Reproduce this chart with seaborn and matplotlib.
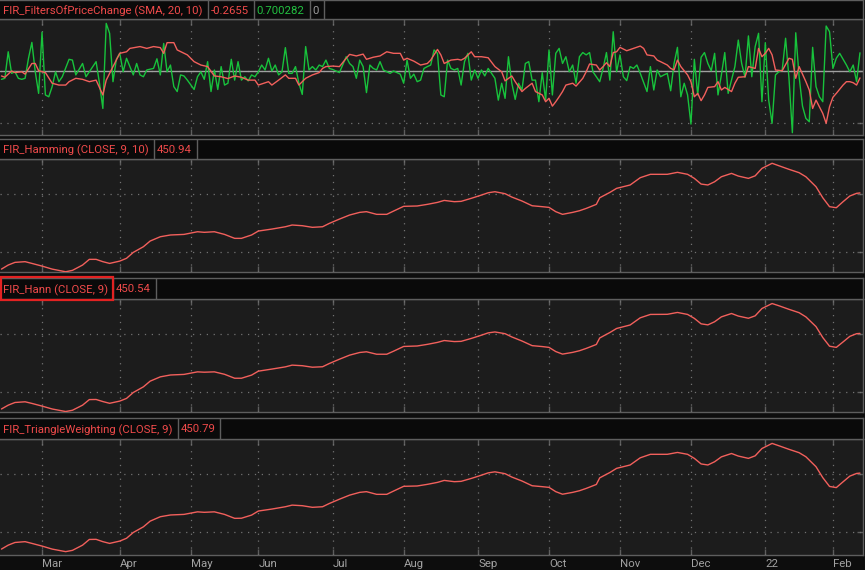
import matplotlib
matplotlib.use("Agg")
import matplotlib.pyplot as plt
import matplotlib.transforms as mtransforms
from matplotlib.patches import Rectangle
import numpy as np
import pandas as pd
import seaborn as sns

# ---------------- data ----------------
month_bars = [12, 35, 56, 76, 98, 119, 141, 162, 183, 204, 226, 246]
month_labels = ["Mar", "Apr", "May", "Jun", "Jul", "Aug", "Sep", "Oct", "Nov", "Dec", "22", "Feb"]

green_bars = [0, 1, 2, 3, 4, 5, 6, 7, 8, 9, 10, 11, 12, 13, 14, 15, 16, 17, 18, 20, 21, 22, 24, 25, 26, 28, 29, 30,
              31, 32, 33, 34, 35, 36, 37, 38, 39, 40, 41, 42, 43, 45, 46, 47, 48, 49, 50, 51, 52, 53, 54, 55, 57, 58,
              59, 60, 61, 62, 63, 64, 65, 66, 67, 68, 69, 70, 71, 72, 73, 74, 75, 76, 77, 78, 79, 80, 81, 82, 83, 84,
              85, 86, 87, 88, 89, 90, 91, 92, 93, 94, 95, 96, 97, 98, 100, 102, 103, 104, 105, 106, 107, 108, 109, 110,
              111, 112, 113, 115, 116, 118, 119, 120, 121, 122, 123, 124, 125, 126, 127, 128, 129, 130, 131, 132, 133,
              134, 135, 136, 137, 138, 139, 140, 141, 142, 143, 144, 145, 146, 147, 148, 149, 150, 151, 152, 153, 154,
              155, 156, 157, 158, 159, 160, 161, 162, 163, 164, 165, 166, 167, 168, 169, 170, 171, 172, 173, 174, 175,
              177, 178, 179, 180, 181, 182, 183, 184, 185, 186, 187, 188, 189, 191, 192, 193, 194, 195, 196, 197, 198,
              199, 200, 201, 202, 203, 204, 205, 206, 207, 208, 209, 210, 211, 212, 213, 214, 215, 216, 217, 218, 219,
              220, 221, 222, 223, 224, 225, 226, 227, 228, 229, 230, 231, 232, 233, 234, 235, 236, 237, 238, 239, 240,
              241, 242, 243, 244, 245, 246, 247, 248, 250, 251, 252, 253, 254]
green_vals = [-0.32, -0.28, 0.74, -0.09, -0.03, -0.28, -0.32, -0.28, 0.49, 1.10, -0.03, -0.86, 1.49, -0.92, -0.99,
              -0.60, -0.03, -0.41, -0.22, 0.45, 0.42, -0.15, 0.29, -0.22, -0.03, 0.36, -0.47, -1.44,
              1.83, 1.45, -0.41, 0.45, 0.68, -0.03, 0.49, 0.17, -0.15, 0.29, -0.15, -0.22, 0.04, 0.10, 0.47, -0.15,
              1.06, -0.03, 0.23, -0.60, -0.79, -0.15, -0.19, -0.35, -0.71, -0.22,
              -0.03, -0.32, 0.36, -0.79, 0.04, -0.71, 0.17, -0.54, -0.47, 0.45, -0.35, 0.36, -0.35, -0.22, -0.38,
              -0.15, -0.22, -0.03, 0.23, 0.04, 0.49, 0.00, 0.23, -0.15, -0.03, 0.90,
              -0.09, -0.09, 0.17, -0.47, -0.90, 0.94, 0.04, 0.17, 0.04, 0.23, 0.17, 0.42, 0.10, 0.06, -0.06, 0.55,
              0.29, 0.17, -0.28, 0.42, 0.17, -0.83, 0.23, 0.10,
              0.04, 0.36, 0.04, -0.09, 0.00, -0.12, -0.47, 0.42, -0.28, -0.12, -0.41, -0.35, 0.10, 0.17, 0.23, 0.81,
              0.68, -0.92, -0.99, 0.42, 0.10,
              0.04, 0.10, -0.54, 0.36, 0.68, -0.35, 0.04, -0.28, 0.04, -0.19, 0.10, -0.09, -0.28, -1.12, -0.47, -1.05,
              0.55, -0.47, -1.09, -0.47, -0.73,
              0.29, 0.36, -0.35, -0.35, -1.18, -0.06, -1.12, 0.81, -0.92, 0.68, 0.87, 0.29, 0.55, -0.03, 0.23, -0.47,
              0.55, 0.71, 0.62, 0.71, -0.03,
              -0.41, 0.10, 0.71, -0.35, 1.51, -0.03, 0.62, -0.22, -0.37, 0.17, 0.10, 0.23, -0.09, -0.79, 0.17, -0.73,
              0.04, -0.22, -0.15, -0.09, -0.76,
              0.29, 0.91, -0.99, -0.47, -0.92, -2.04, 0.45, -0.92, 0.53, 0.71, 0.29, 0.01, 0.68, -0.92, -0.15, 0.71,
              -0.86, -0.35, 0.17, 1.19, 0.29,
              -0.24, 1.35, -0.22, 0.94, 1.45, -1.18, 1.09, -1.12, -2.01, -0.15, -0.03, 0.04, 1.26, -0.28, -2.37, 1.47,
              -0.22, -1.35, -1.82, -1.95, 0.91,
              -0.60, -0.99, -1.18, 1.73, 1.51, 0.10, 0.49, 0.68, 0.23, -0.03, 0.23, -0.41, 0.700282]

red_bars = [0, 1, 3, 4, 6, 7, 9, 10, 11, 13, 15, 17, 19, 20, 22, 24, 26, 28, 30, 31, 33, 35, 37, 38, 41, 43, 45, 47,
            48, 49, 51, 52, 55, 57, 59, 61, 63, 65, 67, 69, 71, 73, 75, 76, 79, 80, 82, 84, 85, 87, 88, 90, 92, 94,
            95, 96, 98, 100, 102, 103, 105, 107, 108, 110, 112, 114, 116, 118, 119, 120, 122, 124, 126, 127, 129, 130,
            131, 133, 135, 136, 137, 139, 140, 142, 144, 146, 148, 149, 151, 152, 154, 155, 157, 158, 160, 161, 162,
            163, 164, 165, 166, 167, 169, 170, 172, 173, 174, 176, 177, 178, 179, 180, 181, 182, 183, 185, 187, 189,
            190, 191, 193, 194, 195, 197, 198, 199, 200, 201, 203, 204, 205, 206, 207, 208, 209, 211, 212, 213, 214,
            216, 217, 218, 220, 221, 223, 224, 225, 226, 227, 228, 229, 231, 233, 234, 235, 236, 238, 239, 240, 241,
            243, 244, 245, 246, 247, 249, 250, 251, 252, 253, 254]
red_vals = [-0.19, -0.24, 0.00, -0.06, -0.03, -0.12, 0.29, 0.29, 0.01, -0.06, -0.47, -0.54, -0.54, -0.41, -0.28,
            -0.32, -0.41, -0.35, -0.92, -0.35, 0.17, 0.68, 0.74, 0.87, 0.94, 0.87, 0.94, 0.90,
            0.68, 1.09, 1.09, 0.81, 0.62, 0.36, 0.23, 0.17, -0.19, -0.22, -0.29, -0.19, -0.24, -0.35, -0.35, -0.54,
            -0.41, -0.54, -0.35, -0.15, -0.28, -0.28, -0.54, -0.28, -0.15, -0.06,
            0.10, 0.17, 0.19, 0.17, 0.49, 0.64, 0.58, 0.65, 0.45, 0.53, 0.58, 0.74, 0.68, 0.68, 0.42, 0.49, 0.38,
            0.23, 0.29, 0.42, 0.83, 0.62,
            0.29, 0.42, 0.45, 0.42, 0.49, 0.74, 0.55, 0.55, 0.51, 0.17, -0.03, -0.38, -0.19, -0.41, -0.79, -0.67,
            -0.47, -0.79, -0.92, -1.18, -1.05,
            -1.35, -1.18, -0.99, -0.79, -0.54, -0.47, -0.58, -0.28, -0.03, 0.27, 0.23, 0.04, 0.17, 0.32, 0.17, 0.71,
            0.74, 0.91, 0.78, 0.87, 0.96,
            0.87, 0.62, 0.58, 0.42, 0.36, 0.23, 0.10, 0.04, 0.42, 0.17, -0.15, -0.41, -0.99, -0.86, -1.14, -0.92,
            -0.63, -0.60, -0.41, -0.73, -0.63,
            -0.79, -0.47, -0.24, -0.22, 0.17, 0.10, 0.87, 0.55, 0.68, 0.87, 0.62, 0.04, 0.01, 0.49, 0.45, -0.28,
            0.17, -0.41, -0.73, -1.44, -1.12,
            -1.63, -2.01, -1.37, -1.01, -0.86, -0.54, -0.41, -0.41, -0.45, -0.54, -0.2655]

price_bars = [0, 2, 4, 7, 9, 12, 15, 19, 21, 24, 26, 28, 30, 32, 35, 37, 39, 42, 44, 47, 50, 54, 58, 60, 63, 66,
              69, 71, 74, 76, 80, 84, 86, 89, 92, 95, 97, 100, 103, 106, 108, 111, 114, 116, 119, 123, 126, 129,
              131, 134, 136, 139, 142, 144, 146, 149, 151, 154, 157, 160, 162, 164, 166, 169, 171, 173, 176, 177,
              180, 182, 186, 189, 192, 197, 200, 203, 205, 207, 209, 211, 213, 216, 218, 221, 223, 225, 228, 230,
              233, 236, 238, 241, 243, 245, 247, 249, 251, 253, 254]
hamming_vals = [385.3, 388.8, 391.1, 391.7, 390.2, 387.9, 385.3, 383.0, 384.2, 388.8, 393.7, 393.7, 391.7, 390.2,
                392.2, 394.6, 399.7, 404.6, 409.5, 413.2, 414.7, 415.2, 417.5, 417.0, 417.5, 415.2,
                411.8, 411.8, 414.7, 418.1, 419.8, 421.8, 423.3, 422.7, 421.3, 421.8, 424.7, 428.4, 431.9, 434.2,
                434.8, 432.5, 432.5, 435.3, 439.4, 439.7, 441.1, 442.8,
                444.5, 443.4, 443.7, 446.3, 449.1, 451.1, 452.0, 450.3, 447.4, 444.0, 439.9, 439.1, 438.5, 434.8,
                432.5, 434.2, 435.6, 437.6, 441.1, 446.8,
                451.4, 454.9, 457.8, 464.1, 467.0, 467.0, 468.7, 467.0, 463.5, 458.6, 457.8, 460.6, 464.9, 467.8,
                465.5, 463.5, 465.7, 472.1, 476.5, 474.4,
                471.3, 468.4, 464.9, 456.3, 446.8, 439.1, 438.2, 443.4, 448.3, 450.6, 450.94]
hann_vals = [385.4, 388.7, 391.0, 391.6, 390.2, 387.9, 385.4, 383.2, 384.3, 388.7, 393.5, 393.6, 391.8, 390.3,
             392.2, 394.5, 399.6, 404.5, 409.4, 413.1, 414.7, 415.2, 417.4, 417.1, 417.4, 415.3,
             411.9, 411.9, 414.6, 418.0, 419.8, 421.7, 423.2, 422.7, 421.4, 421.8, 424.6, 428.3, 431.8, 434.1,
             434.7, 432.6, 432.6, 435.2, 439.3, 439.7, 441.1, 442.8,
             444.4, 443.5, 443.7, 446.2, 449.0, 451.0, 451.8, 450.3, 447.5, 444.0, 440.0, 439.2, 438.5, 434.9,
             432.7, 434.2, 435.6, 437.6, 441.0, 446.6,
             451.3, 454.8, 457.8, 464.0, 466.9, 467.0, 468.6, 466.9, 463.5, 458.8, 457.9, 460.6, 464.8, 467.7,
             465.5, 463.6, 465.7, 472.0, 476.3, 474.4,
             471.3, 468.4, 464.8, 456.4, 447.0, 439.5, 438.5, 443.2, 448.0, 450.3, 450.54]
triangle_vals = [385.3, 388.7, 391.0, 391.7, 390.2, 387.9, 385.3, 383.1, 384.2, 388.7, 393.6, 393.7, 391.7, 390.2,
                 392.2, 394.6, 399.6, 404.5, 409.4, 413.2, 414.7, 415.2, 417.4, 417.0, 417.4, 415.2,
                 411.8, 411.9, 414.6, 418.1, 419.8, 421.8, 423.2, 422.7, 421.3, 421.8, 424.6, 428.3, 431.8, 434.2,
                 434.8, 432.5, 432.5, 435.3, 439.4, 439.7, 441.1, 442.8,
                 444.5, 443.4, 443.7, 446.2, 449.0, 451.0, 451.9, 450.3, 447.4, 444.0, 439.9, 439.1, 438.5, 434.8,
                 432.6, 434.2, 435.6, 437.6, 441.0, 446.7,
                 451.3, 454.9, 457.8, 464.0, 467.0, 467.0, 468.6, 467.0, 463.5, 458.7, 457.8, 460.6, 464.8, 467.7,
                 465.5, 463.5, 465.7, 472.0, 476.4, 474.4,
                 471.3, 468.4, 464.9, 456.3, 446.9, 439.3, 438.3, 443.3, 448.2, 450.5, 450.79]

# ---------------- style ----------------
sns.set_theme(style="dark")
plt.rcParams['font.family'] = ['Roboto', 'DejaVu Sans']

W, H = 865, 570
fig = plt.figure(figsize=(W / 100, H / 100), dpi=100, facecolor='#0d0d0d')
renderer = fig.canvas.get_renderer()

XLIM = (-0.43, 254.9)
PANEL_BG = '#1c1c1c'
HEAD_BG = '#0a0a0a'
EDGE = '#5e5e5e'
GRID = '#727272'
RED = '#f2605c'
GREEN = '#18c23c'
TITLE_RED = '#f04a4a'
FS = 8.2


def px_axes(x0, y0, x1, y1):
    return fig.add_axes([x0 / W, 1 - y1 / H, (x1 - x0) / W, (y1 - y0) / H])


def style_panel(ax, ylim, hgrid):
    ax.set_facecolor(PANEL_BG)
    ax.grid(False)
    for b in month_bars:
        ax.axvline(b, color=GRID, lw=0.9, ls=(0, (1, 4.5)), zorder=1)
    for g in hgrid:
        ax.axhline(g, color=GRID, lw=0.9, ls=(0, (1, 4.5)), zorder=1)
    ax.set_xticks(month_bars)
    ax.set_yticks(hgrid)
    ax.tick_params(axis='x', direction='in', length=4, width=1, color=EDGE,
                   top=True, bottom=True, labelbottom=False, labeltop=False)
    ax.tick_params(axis='y', direction='in', length=4, width=1, color=EDGE,
                   left=False, right=True, labelleft=False, labelright=False)
    for s in ['top', 'bottom', 'right']:
        ax.spines[s].set_visible(True)
        ax.spines[s].set_color(EDGE)
        ax.spines[s].set_linewidth(1)
    ax.spines['left'].set_visible(False)
    ax.set_xlim(*XLIM)
    ax.set_ylim(*ylim)
    ax.set_xlabel('')
    ax.set_ylabel('')


def header(y0, y1, items):
    """items: list of (text, colour); boxes are sized to their text."""
    hx = px_axes(0, y0, 863, y1)
    hx.set_facecolor(HEAD_BG)
    hx.set_xlim(0, 863)
    hx.set_ylim(0, 1)
    hx.set_xticks([])
    hx.set_yticks([])
    for s in hx.spines.values():
        s.set_color(EDGE)
        s.set_linewidth(1)
    hx.spines['left'].set_visible(False)
    x = 0.0
    bounds = []
    for (txt, col) in items:
        t = hx.text(x + 3, 0.5, txt, color=col, fontsize=FS, ha='left', va='center_baseline')
        bb = t.get_window_extent(renderer)
        x = bb.x1 + 5
        hx.plot([x, x], [0, 1], color=EDGE, lw=1)
        bounds.append(x)
    return hx, bounds


# ---------------- panel 1 ----------------
ax1 = px_axes(0, 19, 863, 135)
sns.lineplot(x=green_bars, y=green_vals, ax=ax1, color=GREEN, lw=1.0, estimator=None, sort=False, zorder=3)
sns.lineplot(x=red_bars, y=red_vals, ax=ax1, color=RED, lw=1.0, estimator=None, sort=False, zorder=4)
ax1.axhline(0, color='#a0a0a0', lw=1, zorder=2)
style_panel(ax1, (-2.46, 2.0), [-2.0, 0.0])

header(0, 19, [("FIR_FiltersOfPriceChange (SMA, 20, 10)", TITLE_RED),
               (f"{red_vals[-1]:.4f}", TITLE_RED),
               (f"{green_vals[-1]:.6f}", '#22c040'),
               ("0", '#9a9a9a')])

# ---------------- panels 2-4 ----------------
specs = [
    (159, 272, hamming_vals, "FIR_Hamming (CLOSE, 9, 10)", 139, (382.8, 480.2)),
    (299, 412, hann_vals, "FIR_Hann (CLOSE, 9)", 278, (382.8, 480.2)),
    (439, 555, triangle_vals, "FIR_TriangleWeighting (CLOSE, 9)", 418, (380.2, 480.2)),
]
axes = []
hann_bounds = None
for (py0, py1, vals, title, hy0, ylim) in specs:
    ax = px_axes(0, py0, 863, py1)
    sns.lineplot(x=price_bars, y=vals, ax=ax, color=RED, lw=1.0, estimator=None, sort=False, zorder=3)
    style_panel(ax, ylim, [400, 450])
    _, bnds = header(hy0, py0, [(title, TITLE_RED), (f"{vals[-1]:.2f}", TITLE_RED)])
    if vals is hann_vals:
        hann_bounds = bnds
    axes.append(ax)

# red highlight around FIR_Hann title
bw = hann_bounds[0] - 1
fig.add_artist(Rectangle((1 / W, 1 - 300 / H), bw / W, 23 / H, transform=fig.transFigure,
                         fill=False, ec='#e32222', lw=1.6, zorder=10))

# ---------------- x labels ----------------
ax4 = axes[-1]
trans = mtransforms.blended_transform_factory(ax4.transData, fig.transFigure)
for b, lab in zip(month_bars, month_labels):
    ax4.text(b, 1 - 564 / H, lab, transform=trans, ha='left', va='center', color='#a2a2a2',
             fontsize=FS, clip_on=False)

fig.savefig("out.png", dpi=100, facecolor=fig.get_facecolor())
